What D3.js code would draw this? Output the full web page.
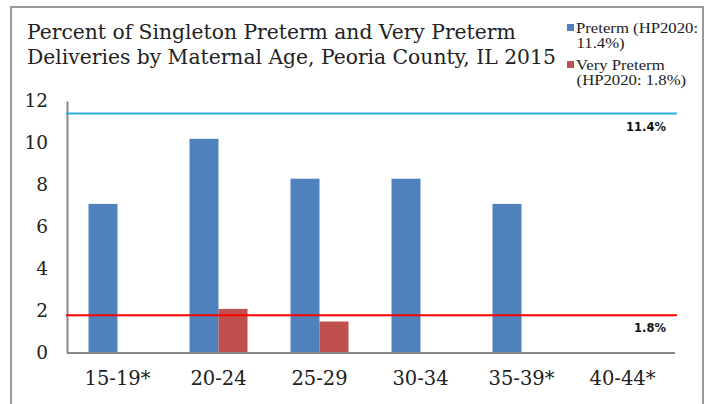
<!DOCTYPE html>
<html><head><meta charset="utf-8">
<script src="https://cdn.jsdelivr.net/npm/d3@7"></script>
<style>body{margin:0;background:#fff}svg{display:block}</style>
</head><body><svg id="c" width="711" height="404"></svg>
<script>
const categories = ["15-19*","20-24","25-29","30-34","35-39*","40-44*"];
const preterm = [7.1, 10.2, 8.3, 8.3, 7.1, 0];
const veryPreterm = [0, 2.1, 1.5, 0, 0, 0];
const yTicks = [0,2,4,6,8,10,12];
const targets = [{value:11.4,label:"11.4%",color:"#2fb0e0"},{value:1.8,label:"1.8%",color:"#ff0000"}];
const titleLines = ["Percent of Singleton Preterm and Very Preterm","Deliveries by Maternal Age, Peoria County, IL 2015"];
const legendItems = [{color:"#4f81bd",lines:["Preterm (HP2020:","11.4%)"]},{color:"#c0504d",lines:["Very Preterm","(HP2020: 1.8%)"]}];

const svg = d3.select("#c");
// border
svg.append("path").attr("d","M11,404 V7 H703 V404").attr("fill","none").attr("stroke","#999").attr("stroke-width",2);

const x0 = 67, x1 = 673, yTop = 101, yBot = 353;
const x = d3.scaleBand().domain(categories).range([x0,x1]);
const y = d3.scaleLinear().domain([0,12]).range([yBot,yTop]);
const bw = 29;

// title
svg.append("text").attr("x",28).attr("y",39).attr("font-family","DejaVu Serif").attr("font-size",20.3).attr("fill","#222")
  .selectAll("tspan").data(titleLines).join("tspan").attr("x",27).attr("dy",(d,i)=>i?25:0).text(d=>d);

// legend
legendItems.forEach((it,i)=>{
  const by = 24 + i*37;
  svg.append("rect").attr("x",567).attr("y",by).attr("width",7).attr("height",7).attr("fill",it.color);
  svg.append("g").attr("transform","translate(576,0) scale(1.13,1)")
    .append("text").attr("font-family","Liberation Serif").attr("font-size",14.8).attr("fill","#222")
    .selectAll("tspan").data(it.lines).join("tspan").attr("x",(d,j)=>j?0.5:0).attr("y",(d,j)=>by+9+j*15.5).text(d=>d);
});

// bars
const g = svg.append("g");
g.selectAll("rect.p").data(categories).join("rect").attr("class","p")
  .attr("x",(d)=>x(d)+x.bandwidth()/2-bw).attr("width",bw)
  .attr("y",(d,i)=>y(preterm[i])).attr("height",(d,i)=>yBot-y(preterm[i])).attr("fill","#4f81bd");
g.selectAll("rect.v").data(categories).join("rect").attr("class","v")
  .attr("x",(d)=>x(d)+x.bandwidth()/2).attr("width",bw)
  .attr("y",(d,i)=>y(veryPreterm[i])).attr("height",(d,i)=>yBot-y(veryPreterm[i])).attr("fill","#c0504d");

// axes
const yAxis = svg.append("g").attr("transform",`translate(${x0},0)`).call(d3.axisLeft(y).tickValues(yTicks).tickSize(0).tickPadding(19));
yAxis.select(".domain").attr("stroke","#888").attr("stroke-width",2);
yAxis.selectAll("text").attr("font-family","DejaVu Serif").attr("font-size",18.5).attr("fill","#222");
const xAxis = svg.append("g").attr("transform",`translate(0,${yBot})`).call(d3.axisBottom(x).tickSize(0));
xAxis.select(".domain").attr("stroke","#888").attr("stroke-width",2).attr("d",`M${x0},0H${x1+2}`);
xAxis.selectAll("text").attr("font-family","DejaVu Serif").attr("font-size",19.5).attr("fill","#222").attr("dy",null).attr("y",32);

// target lines
targets.forEach(t=>{
  svg.append("line").attr("x1",x0-1).attr("x2",677).attr("y1",y(t.value)).attr("y2",y(t.value)).attr("stroke",t.color).attr("stroke-width",2);
  svg.append("text").attr("x",666).attr("y",y(t.value)+17).attr("text-anchor","end").attr("font-family","DejaVu Sans").attr("font-weight","bold").attr("font-size",11.5).attr("fill","#111").text(t.label);
});
</script></body></html>
